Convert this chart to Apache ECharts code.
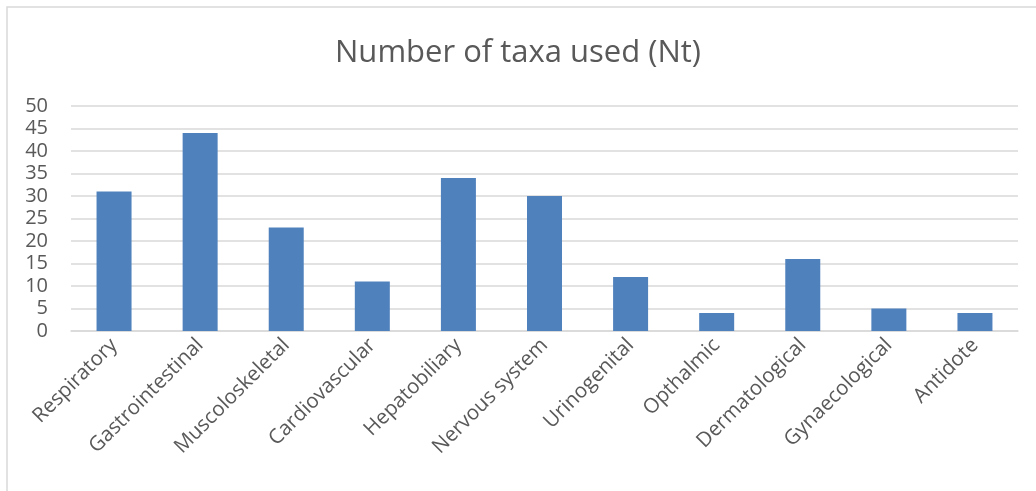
<!DOCTYPE html>
<html>
<head>
<meta charset="utf-8">
<script src="https://cdn.jsdelivr.net/npm/echarts@6/dist/echarts.min.js"></script>
<style>
  html, body { margin: 0; padding: 0; background: #fff; }
  #chart { width: 1036px; height: 491px; }
</style>
</head>
<body>
<div id="chart"></div>
<script>
// body systems and number of taxa used for each
const categories = ['Respiratory', 'Gastrointestinal', 'Muscoloskeletal', 'Cardiovascular', 'Hepatobiliary',
  'Nervous system', 'Urinogenital', 'Opthalmic', 'Dermatological', 'Gynaecological', 'Antidote'];
const taxaUsed = [31, 44, 23, 11, 34, 30, 12, 4, 16, 5, 4];

const yMin = 0;
const yMax = 50;
const yStep = 5;

const textColor = '#595959';
const gridColor = '#d9d9d9';
const barColor = '#4f81bd';
const fontName = '"Open Sans", "Noto Sans", sans-serif';

const chart = echarts.init(document.getElementById('chart'));

chart.setOption({
  backgroundColor: '#fff',
  animation: false,
  title: {
    text: 'Number of taxa used (Nt)',
    left: 'center',
    top: 33,
    textStyle: {
      color: textColor,
      fontFamily: fontName,
      fontSize: 31,
      fontWeight: 'normal'
    }
  },
  // the chart frame, only its top and left edges fall inside the picture
  graphic: [
    {
      type: 'rect',
      shape: { x: 7, y: 7, width: 1100, height: 600 },
      style: { fill: 'none', stroke: gridColor, lineWidth: 1.5 },
      silent: true
    }
  ],
  grid: {
    left: 71,
    right: 18,
    top: 106,
    bottom: 160
  },
  xAxis: {
    type: 'category',
    data: categories,
    axisLine: { show: true, lineStyle: { color: gridColor, width: 1.5 } },
    axisTick: { show: false },
    axisLabel: {
      rotate: 45,
      interval: 0,
      margin: 11,
      color: textColor,
      fontFamily: fontName,
      fontSize: 20.5
    }
  },
  yAxis: {
    type: 'value',
    min: yMin,
    max: yMax,
    interval: yStep,
    axisLine: { show: false },
    axisTick: { show: false },
    axisLabel: {
      margin: 23,
      color: textColor,
      fontFamily: fontName,
      fontSize: 20
    },
    splitLine: { show: true, lineStyle: { color: gridColor, width: 1.5 } }
  },
  series: [
    {
      name: 'Number of taxa used (Nt)',
      type: 'bar',
      data: taxaUsed,
      barWidth: 35,
      itemStyle: { color: barColor }
    }
  ]
});
</script>
</body>
</html>
